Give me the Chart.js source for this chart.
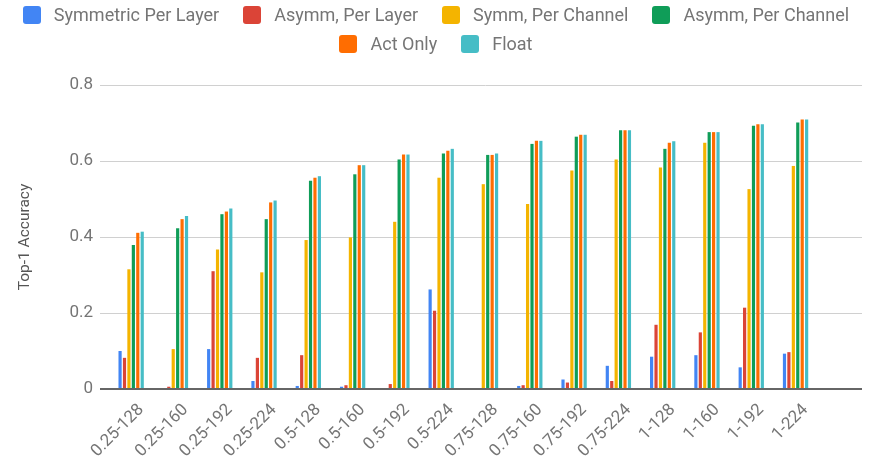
<!DOCTYPE html>
<html>
<head>
<meta charset="utf-8">
<script src="https://cdn.jsdelivr.net/npm/chart.js@4.4.0/dist/chart.umd.min.js"></script>
<style>
  body { margin: 0; background: #fff; font-family: Roboto, sans-serif; }
  #wrap { position: relative; width: 872px; height: 468px; }
  #legend {
    position: absolute; top: 0; left: 0; width: 872px;
    display: flex; flex-wrap: wrap; justify-content: center;
    column-gap: 24px; line-height: 29px; font-size: 18px; color: #757575;
  }
  .item { display: flex; align-items: center; white-space: nowrap; }
  .box { width: 18px; height: 18px; border-radius: 3px; margin-right: 13px; }
</style>
</head>
<body>
<div id="wrap">
  <div id="legend"></div>
  <canvas id="accChart" width="872" height="468"></canvas>
</div>
<script>
const categories = ["0.25-128", "0.25-160", "0.25-192", "0.25-224", "0.5-128", "0.5-160", "0.5-192", "0.5-224",
  "0.75-128", "0.75-160", "0.75-192", "0.75-224", "1-128", "1-160", "1-192", "1-224", ""];

const seriesNames = ["Symmetric Per Layer", "Asymm, Per Layer", "Symm, Per Channel", "Asymm, Per Channel", "Act Only", "Float"];
const seriesColors = ["#4285F4", "#DB4437", "#F4B400", "#0F9D58", "#FF6D01", "#46BDC6"];

const symPerLayer = [0.100, null, 0.105, 0.021, 0.008, 0.006, null, 0.262, null, 0.008, 0.025, 0.061, 0.085, 0.089, 0.057, 0.093];
const asymPerLayer = [0.082, 0.006, 0.310, 0.082, 0.089, 0.010, 0.013, 0.206, null, 0.010, 0.017, 0.021, 0.169, 0.149, 0.214, 0.097];
const symPerChannel = [0.315, 0.105, 0.367, 0.307, 0.392, 0.399, 0.440, 0.556, 0.539, 0.487, 0.575, 0.604, 0.583, 0.648, 0.526, 0.587];
const asymPerChannel = [0.379, 0.423, 0.460, 0.447, 0.548, 0.565, 0.604, 0.620, 0.616, 0.645, 0.664, 0.681, 0.632, 0.676, 0.693, 0.701];
const actOnly = [0.411, 0.447, 0.467, 0.491, 0.556, 0.589, 0.617, 0.627, 0.616, 0.653, 0.669, 0.681, 0.648, 0.676, 0.697, 0.709];
const floatAcc = [0.414, 0.455, 0.475, 0.496, 0.560, 0.589, 0.617, 0.632, 0.620, 0.653, 0.669, 0.681, 0.652, 0.676, 0.697, 0.709];

const seriesData = [symPerLayer, asymPerLayer, symPerChannel, asymPerChannel, actOnly, floatAcc];

const yTicks = [0, 0.2, 0.4, 0.6, 0.8];

// html legend built from the chart's own legend items
const htmlLegend = {
  id: "htmlLegend",
  afterUpdate(chart) {
    const box = document.getElementById("legend");
    box.innerHTML = "";
    const items = chart.options.plugins.legend.labels.generateLabels(chart);
    items.forEach((item) => {
      const el = document.createElement("div");
      el.className = "item";
      el.innerHTML = `<span class="box" style="background:${item.fillStyle}"></span><span>${item.text}</span>`;
      box.appendChild(el);
    });
  }
};

const ctx = document.getElementById("accChart").getContext("2d");
new Chart(ctx, {
  type: "bar",
  data: {
    labels: categories,
    datasets: seriesNames.map((name, i) => ({
      label: name,
      data: seriesData[i],
      backgroundColor: seriesColors[i],
      borderWidth: 0,
      categoryPercentage: 0.6,
      barPercentage: 0.72
    }))
  },
  options: {
    responsive: false,
    animation: false,
    layout: { padding: { top: 85, right: 10, bottom: 0, left: 0 } },
    plugins: {
      legend: { display: false },
      tooltip: { enabled: false }
    },
    scales: {
      x: {
        grid: { display: false },
        border: { display: false },
        ticks: {
          autoSkip: false,
          maxRotation: 45,
          minRotation: 45,
          labelOffset: 10,
          padding: 3,
          color: "#757575",
          font: { family: "Roboto", size: 17 }
        },
        afterFit: (scale) => { scale.height = 79; }
      },
      y: {
        min: 0,
        max: 0.8,
        afterBuildTicks: (scale) => { scale.ticks = yTicks.map((v) => ({ value: v })); },
        grid: {
          color: (c) => (c.tick && c.tick.value === 0 ? "#666" : "#d0d0d0"),
          lineWidth: (c) => (c.tick && c.tick.value === 0 ? 2 : 1),
          tickLength: 9
        },
        border: { display: false },
        ticks: {
          padding: 7,
          color: "#757575",
          font: { family: "Roboto", size: 17 }
        },
        title: {
          display: true,
          text: "Top-1 Accuracy",
          color: "#555",
          font: { family: "Roboto", size: 15.5 },
          padding: { top: 16 }
        },
        afterFit: (scale) => { scale.width = 109; }
      }
    }
  },
  plugins: [htmlLegend]
});
</script>
</body>
</html>
